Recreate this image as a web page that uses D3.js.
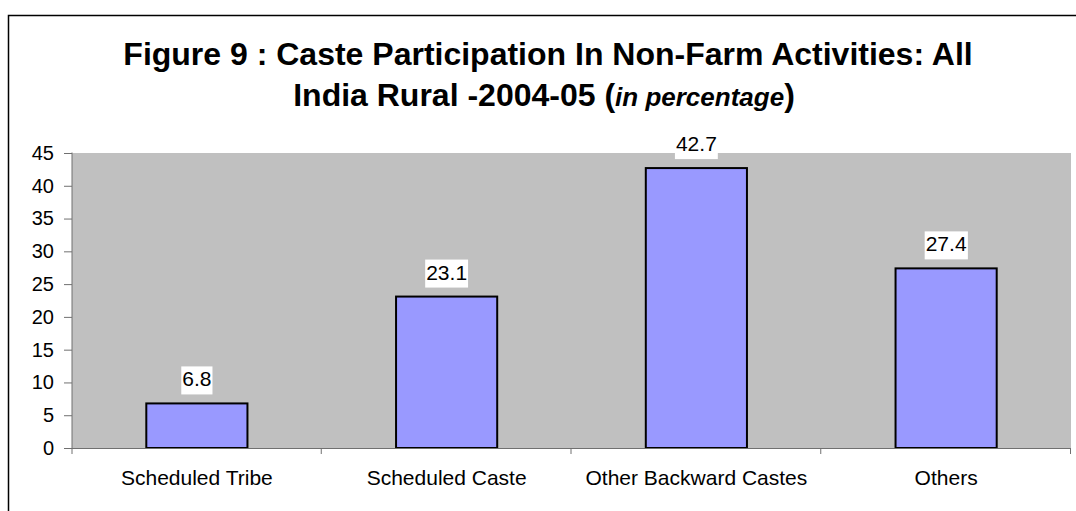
<!DOCTYPE html>
<html>
<head>
<meta charset="utf-8">
<script src="https://cdn.jsdelivr.net/npm/d3@7"></script>
<style>
  html, body { margin: 0; padding: 0; background: #fff; }
  svg { display: block; font-family: Arial, "Liberation Sans", sans-serif; }
</style>
</head>
<body>
<svg id="chart" width="1076" height="511"></svg>
<script>
const categories = ["Scheduled Tribe", "Scheduled Caste", "Other Backward Castes", "Others"];
const values = [6.8, 23.1, 42.7, 27.4];
const valueLabels = ["6.8", "23.1", "42.7", "27.4"];
const yTicks = [0, 5, 10, 15, 20, 25, 30, 35, 40, 45];
const titleLine1 = "Figure 9 : Caste Participation In Non-Farm Activities: All";
const titleLine2a = "India Rural -2004-05 (";
const titleLine2b = "in percentage";
const titleLine2c = ")";

const svg = d3.select("#chart");
const W = 1076, H = 511;
const plot = { left: 72, right: 1071, top: 153, bottom: 448 };
const FONT = "Arial, 'Liberation Sans', sans-serif";

// outer chart border
svg.append("path")
  .attr("d", `M8.5,${H} L8.5,15.5 L${W},15.5`)
  .attr("fill", "none").attr("stroke", "#000").attr("stroke-width", 1.5);

// title
svg.append("text").attr("text-anchor", "middle").attr("font-weight", "bold")
  .attr("x", 548).attr("y", 65).attr("font-size", 32).text(titleLine1);
const l2 = svg.append("text").attr("text-anchor", "middle").attr("font-weight", "bold")
  .attr("x", 544).attr("y", 106);
l2.append("tspan").attr("font-size", 32).text(titleLine2a);
l2.append("tspan").attr("font-size", 26).attr("font-style", "italic").text(titleLine2b);
l2.append("tspan").attr("font-size", 32).text(titleLine2c);

const x = d3.scaleBand().domain(categories).range([plot.left, plot.right]).padding(0);
const y = d3.scaleLinear().domain([0, 45]).range([plot.bottom, plot.top]);

// plot background
svg.append("rect")
  .attr("x", plot.left).attr("y", plot.top)
  .attr("width", plot.right - plot.left).attr("height", plot.bottom - plot.top)
  .attr("fill", "#C0C0C0");

// bars
const bw = x.bandwidth() * 0.405;
svg.append("g").selectAll("rect").data(values).join("rect")
  .attr("x", (d, i) => x(categories[i]) + (x.bandwidth() - bw) / 2)
  .attr("y", d => y(d))
  .attr("width", bw)
  .attr("height", d => y(0) - y(d))
  .attr("fill", "#9999FF")
  .attr("stroke", "#000").attr("stroke-width", 2);

// y axis
const yAxis = svg.append("g").attr("transform", `translate(${plot.left},0)`)
  .call(d3.axisLeft(y).tickValues(yTicks).tickSize(8).tickPadding(10));
yAxis.select(".domain").attr("stroke", "#707070").attr("d", `M0,${plot.top - 0.5}V${plot.bottom + 6}`);
yAxis.selectAll(".tick line").attr("stroke", "#707070");
yAxis.selectAll("text").attr("font-size", 20).attr("fill", "#000").attr("font-family", FONT);

// x axis with ticks at band boundaries
const xAxis = svg.append("g").attr("transform", `translate(0,${plot.bottom})`)
  .call(d3.axisBottom(x).tickSize(0).tickPadding(22));
xAxis.select(".domain").attr("stroke", "#707070").attr("d", `M${plot.left},0.5H${plot.right}`);
xAxis.selectAll("text").attr("font-size", 21).attr("fill", "#000").attr("font-family", FONT);
const bounds = categories.map(c => x(c)).concat([x(categories[categories.length - 1]) + x.bandwidth()]);
xAxis.append("g").selectAll("line").data(bounds.slice(1)).join("line")
  .attr("x1", d => d - 0.5).attr("x2", d => d - 0.5)
  .attr("y1", 0).attr("y2", 6).attr("stroke", "#707070");

// value labels with white boxes
const lg = svg.append("g");
values.forEach((v, i) => {
  const cx = x(categories[i]) + x.bandwidth() / 2;
  const g = lg.append("g");
  const t = g.append("text").attr("x", cx).attr("y", y(v) - 17)
    .attr("text-anchor", "middle").attr("font-size", 21).attr("fill", "#000")
    .text(valueLabels[i]);
  const bb = t.node().getBBox();
  g.insert("rect", "text")
    .attr("x", bb.x - 1).attr("y", y(v) - 37)
    .attr("width", bb.width + 2).attr("height", 28)
    .attr("fill", "#fff");
});
</script>
</body>
</html>
